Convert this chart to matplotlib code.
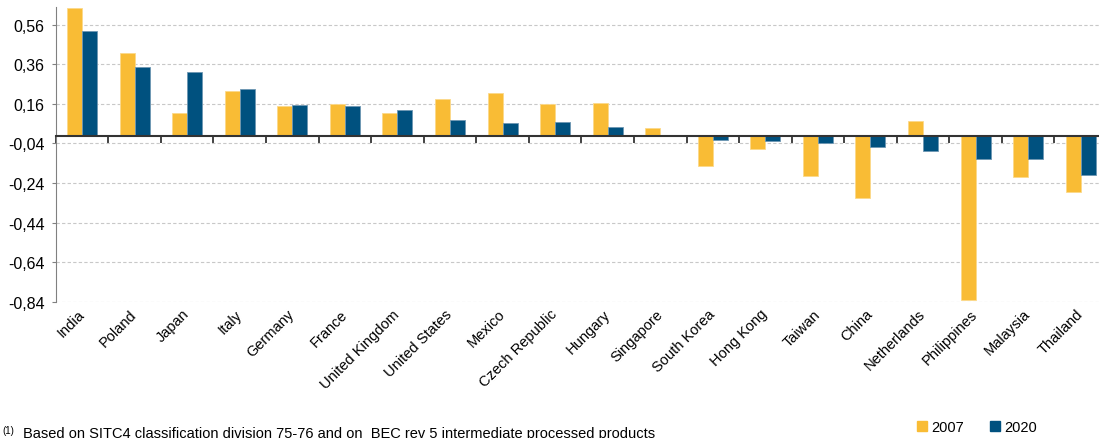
import numpy as np
import matplotlib.pyplot as plt
from matplotlib.patches import Patch
from matplotlib.ticker import FuncFormatter

plt.rcParams['font.family'] = ['Liberation Sans', 'DejaVu Sans']

countries = ['India', 'Poland', 'Japan', 'Italy', 'Germany', 'France',
             'United Kingdom', 'United States', 'Mexico', 'Czech Republic',
             'Hungary', 'Singapore', 'South Korea', 'Hong Kong', 'Taiwan',
             'China', 'Netherlands', 'Philippines', 'Malaysia', 'Thailand']

vals_2007 = [0.646, 0.418, 0.113, 0.226, 0.148, 0.158, 0.115, 0.187, 0.216, 0.158,
             0.165, 0.040, -0.155, -0.069, -0.205, -0.316, 0.072, -0.830, -0.211, -0.284]
vals_2020 = [0.530, 0.347, 0.320, 0.236, 0.155, 0.150, 0.130, 0.079, 0.065, 0.067,
             0.044, 0.0, -0.022, -0.027, -0.037, -0.056, -0.079, -0.120, -0.120, -0.200]

yticks = [0.56, 0.36, 0.16, -0.04, -0.24, -0.44, -0.64, -0.84]

c07 = '#F9BC35'
c20 = '#00517F'

fig = plt.figure(figsize=(10.99, 4.39), dpi=100)
ax = fig.add_axes([0.0507, 0.3105, 0.9566, 0.6713])

x = np.arange(len(countries))
w = 0.285
ax.bar(x - w / 2, vals_2007, w, color=c07, edgecolor='#FCD98A', linewidth=0.6, zorder=3)
ax.bar(x + w / 2, vals_2020, w, color=c20, edgecolor='#6E97B3', linewidth=0.6, zorder=3)

ax.set_xlim(-0.5, len(countries) - 0.5)
ax.set_ylim(-0.84, 0.65)

ax.set_yticks(yticks)
ax.yaxis.set_major_formatter(FuncFormatter(lambda v, p: f'{v:.2f}'.replace('.', ',')))
ax.tick_params(axis='y', length=3, color='#808080', labelsize=11.5, pad=5)
ax.yaxis.grid(True, color='#C8C8C8', linestyle=(0, (3, 2)), linewidth=0.8, zorder=0)

# zero line carries the tick marks between categories
ax.spines['top'].set_position(('data', 0))
ax.spines['top'].set_color('#333333')
ax.spines['top'].set_linewidth(1.5)
ax.spines['top'].set_zorder(4)
ax.set_xticks(np.arange(len(countries) + 1) - 0.5, minor=True)
ax.tick_params(axis='x', which='minor', top=True, bottom=False, direction='in',
               length=5, width=1.2, color='#222222')

# category labels at the bottom, no marks
ax.set_xticks(x)
ax.set_xticklabels(countries, fontsize=10.5)
ax.tick_params(axis='x', which='major', length=0, pad=7, top=False)
for lab in ax.get_xticklabels():
    lab.set_rotation(45)
    lab.set_ha('right')
    lab.set_va('center')
    lab.set_rotation_mode('anchor')

ax.spines['bottom'].set_visible(False)
ax.spines['right'].set_visible(False)
ax.spines['left'].set_color('#808080')

fig.text(0.002, 0.0300, '(1)', fontsize=7, va='top', ha='left')
fig.text(0.021, 0.0273, 'Based on SITC4 classification division 75-76 and on  BEC rev 5 intermediate processed products',
         fontsize=10.5, va='top', ha='left')

handles = [Patch(color=c07, label='2007'), Patch(color=c20, label='2020')]
fig.legend(handles=handles, loc='center', bbox_to_anchor=(977 / 1099, 1 - 428 / 439),
           ncol=2, frameon=False, fontsize=10.5, handlelength=0.7, handleheight=0.7,
           handletextpad=0.3, columnspacing=1.8)

fig.savefig('out.png', dpi=100)
